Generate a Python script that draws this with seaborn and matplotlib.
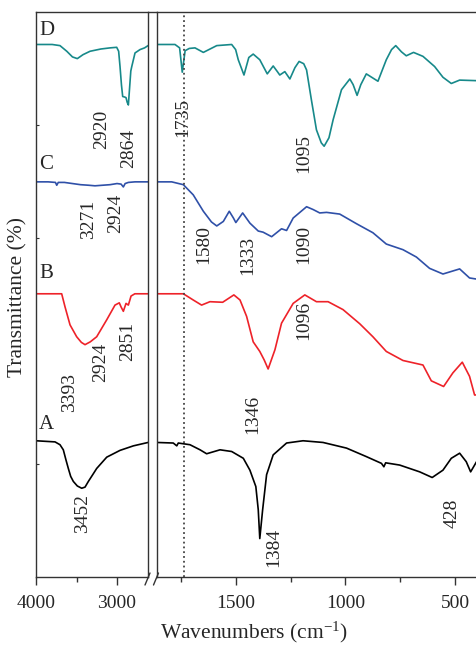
import pandas as pd
import matplotlib.pyplot as plt
import seaborn as sns
from matplotlib.lines import Line2D

# spectra (wavenumber, transmittance with offsets)
a_wn = [4000, 3765, 3704, 3663, 3630, 3601, 3572, 3539, 3490, 3436, 3395, 3354, 3300, 3251, 3189,
        3127, 2963, 2798, 2617,
        1859, 1784, 1768, 1761, 1708, 1662, 1632, 1571, 1518, 1465, 1435, 1408, 1397, 1390, 1377,
        1359, 1329, 1268, 1193, 1102, 995, 905, 836, 825, 817, 753, 662, 605, 556, 518, 480, 450,
        430, 412, 403]
a_t = [24.1, 23.9, 23.4, 22.5, 20.7, 19.2, 17.8, 16.9, 16.1, 15.7, 15.9, 16.9, 18.1, 19.2, 20.2,
       21.2, 22.4, 23.2, 23.8,
       23.8, 23.7, 23.2, 23.7, 23.4, 22.5, 21.8, 22.5, 22.2, 21.0, 18.9, 16.0, 11.9, 6.8, 11.9,
       18.1, 21.6, 23.7, 24.1, 23.8, 22.8, 21.3, 20.1, 19.5, 20.2, 19.8, 18.6, 17.6, 18.9, 21.0,
       21.9, 20.4, 18.6, 19.8, 20.4]

b_wn = [4000, 3683, 3642, 3580, 3498, 3440, 3395, 3330, 3251, 3127, 3025, 2972, 2951, 2922, 2889,
        2860, 2827, 2780, 2617, 1859, 1738, 1693, 1655, 1617, 1559, 1508, 1480, 1450, 1420, 1390,
        1370, 1352, 1321, 1291, 1238, 1185, 1132, 1079, 1011, 935, 875, 814, 738, 647, 609, 553,
        511, 468, 435, 412, 403]
b_t = [50.1, 50.1, 47.8, 44.6, 42.5, 41.5, 41.1, 41.6, 42.5, 45.5, 48.1, 48.5, 47.8, 47.0, 48.4,
       48.1, 49.7, 50.1, 50.1, 50.1, 50.1, 49.0, 48.1, 48.7, 48.6, 49.9, 49.0, 46.1, 41.6, 39.9,
       38.4, 36.8, 40.2, 44.9, 48.4, 49.9, 48.7, 48.7, 47.3, 44.8, 42.5, 39.9, 38.3, 37.5, 34.7,
       33.7, 36.1, 38.0, 35.5, 32.2, 32.2]

c_wn = [4000, 3850, 3760, 3744, 3725, 3650, 3550, 3450, 3350, 3272, 3180, 3086, 3000, 2950, 2922,
        2900, 2860, 2778, 2617, 1859, 1791, 1738, 1693, 1647, 1610, 1586, 1556, 1529, 1510, 1499,
        1468, 1435, 1397, 1375, 1336, 1291, 1268, 1238, 1177, 1147, 1117, 1086, 1026, 950, 875,
        814, 738, 677, 617, 556, 480, 435, 403]
c_t = [69.9, 69.9, 69.8, 69.3, 69.8, 69.8, 69.6, 69.4, 69.3, 69.2, 69.3, 69.4, 69.6, 69.5, 69.0,
       69.6, 69.8, 69.9, 69.9, 69.9, 69.9, 69.4, 67.6, 64.7, 62.8, 62.1, 62.9, 64.7, 63.5, 62.7,
       64.4, 62.6, 61.2, 61.0, 60.2, 61.6, 61.3, 63.5, 65.5, 65.0, 64.4, 64.5, 64.2, 62.5, 60.9,
       58.9, 57.9, 56.6, 54.6, 53.6, 54.5, 52.9, 52.7]

d_wn = [4000, 3800, 3704, 3620, 3550, 3490, 3420, 3333, 3200, 3086, 3004, 2980, 2963, 2945, 2930,
        2905, 2889, 2875, 2860, 2845, 2830, 2818, 2778, 2716, 2660, 2617, 1859, 1776, 1755, 1743,
        1730, 1711, 1685, 1647, 1586, 1518, 1500, 1488, 1462, 1440, 1420, 1390, 1356, 1329, 1310,
        1299, 1276, 1253, 1230, 1211, 1190, 1177, 1155, 1132, 1110, 1097, 1075, 1056, 1018, 980,
        965, 947, 930, 905, 852, 814, 790, 771, 745, 723, 690, 647, 594, 556, 518, 480, 403]
d_t = [94.2, 94.2, 94.0, 93.0, 92.0, 91.7, 92.4, 93.0, 93.4, 93.6, 93.7, 93.0, 90.3, 87.0, 85.0,
       84.9, 84.8, 84.0, 83.5, 86.5, 89.5, 90.3, 92.7, 93.3, 93.6, 94.0, 94.2, 94.2, 93.6, 89.3,
       93.1, 93.5, 93.6, 92.8, 94.0, 94.2, 93.3, 91.5, 88.8, 91.9, 92.5, 91.5, 89.0, 90.4, 89.4,
       88.8, 89.4, 88.1, 90.1, 91.2, 90.8, 89.7, 84.4, 79.1, 76.8, 76.2, 77.7, 80.9, 86.2, 88.1,
       87.1, 85.2, 87.1, 89.0, 87.7, 91.5, 93.3, 94.0, 92.9, 92.2, 92.8, 92.1, 90.3, 88.4, 87.3,
       87.9, 87.8]

# peak labels
peak_text = ['2920', '2864', '1735', '1095', '3271', '2924', '1580', '1333', '1090',
             '3393', '2924', '2851', '1096', '1346', '3452', '1384', '428']
peak_wn = [3195, 2852, 1742, 1190, 3354, 3015, 1647, 1443, 1190,
           3580, 3200, 2870, 1190, 1420, 3426, 1326, 515]
peak_t = [79.1, 75.8, 81.2, 74.9, 63.2, 64.4, 58.8, 56.8, 58.8,
          32.6, 37.9, 41.6, 45.3, 28.7, 11.3, 5.3, 11.3]

# sample letters
letters = ['D', 'C', 'B', 'A']
letter_t = [96.6, 72.9, 53.6, 26.9]

colors = {'A': '#000000', 'B': '#ee2229', 'C': '#2f50a8', 'D': '#17898a'}

frames = []
for name, wn, t in [('A', a_wn, a_t), ('B', b_wn, b_t), ('C', c_wn, c_t), ('D', d_wn, d_t)]:
    frames.append(pd.DataFrame({'sample': name, 'wn': wn, 'T': t}))
df = pd.concat(frames, ignore_index=True)

sns.set_style('ticks')
plt.rcParams['font.family'] = ['Liberation Serif', 'DejaVu Serif']
plt.rcParams['mathtext.fontset'] = 'custom'
plt.rcParams['mathtext.rm'] = 'Liberation Serif'
plt.rcParams['mathtext.it'] = 'Liberation Serif:italic'

fig = plt.figure(figsize=(4.77, 6.46), dpi=100)
bottom, height = 69 / 646, 565.3 / 646
ax1 = fig.add_axes([36 / 477, bottom, 112.3 / 477, height])
ax2 = fig.add_axes([157 / 477, bottom, 320 / 477, height])

spine_col = '#333333'
for ax in (ax1, ax2):
    sns.lineplot(data=df, x='wn', y='T', hue='sample', palette=colors, sort=False,
                 estimator=None, legend=False, linewidth=1.2, ax=ax)
    ax.set_ylim(0, 100)
    ax.set_xlabel('')
    ax.set_ylabel('')
    for s in ax.spines.values():
        s.set_color(spine_col)
        s.set_linewidth(1.0)
    ax.tick_params(axis='x', which='major', length=6, width=1.0, labelsize=14, pad=7,
                   color=spine_col)
    ax.tick_params(axis='x', which='minor', length=3.5, width=1.0, color=spine_col)

ax1.set_xlim(4000, 2614)
ax1.set_xticks([4000, 3000])
ax1.set_xticks([3500], minor=True)
ax1.set_yticks([20, 60, 80])
ax1.set_yticklabels([])
ax1.tick_params(axis='y', direction='in', length=2.5, color=spine_col)
ax1.tick_params(axis='y', right=False)

ax2.set_xlim(1858, 401)
ax2.set_xticks([1500, 1000, 500])
ax2.set_xticks([1750, 1250, 750], minor=True)
ax2.set_yticks([])
ax2.axvline(1735, color='#444444', linestyle=':', linewidth=1.3)

for txt, w, t in zip(peak_text, peak_wn, peak_t):
    ax = ax1 if w > 2000 else ax2
    ax.text(w, t, txt, rotation=90, ha='center', va='center', fontsize=14)

for lab, t in zip(letters, letter_t):
    ax1.text(3870, t, lab, ha='center', va='center', fontsize=15)

# top edge across the gap and break marks
fig.add_artist(Line2D([148.3 / 477, 157 / 477], [634.3 / 646, 634.3 / 646],
                      color=spine_col, linewidth=1.0))
for x0 in (145, 153.5):
    fig.add_artist(Line2D([x0 / 477, (x0 + 5) / 477], [(646 - 585) / 646, (646 - 573) / 646],
                          color=spine_col, linewidth=1.0))

fig.text(254 / 477, 0.002, 'Wavenumbers (cm$^{-1}$)', ha='center', va='bottom', fontsize=15.5)
fig.text(17.5 / 477, (646 - 297) / 646, 'Transmittance (%)', rotation=90,
         ha='center', va='center', fontsize=15.5)

fig.savefig('out.png', dpi=100)
